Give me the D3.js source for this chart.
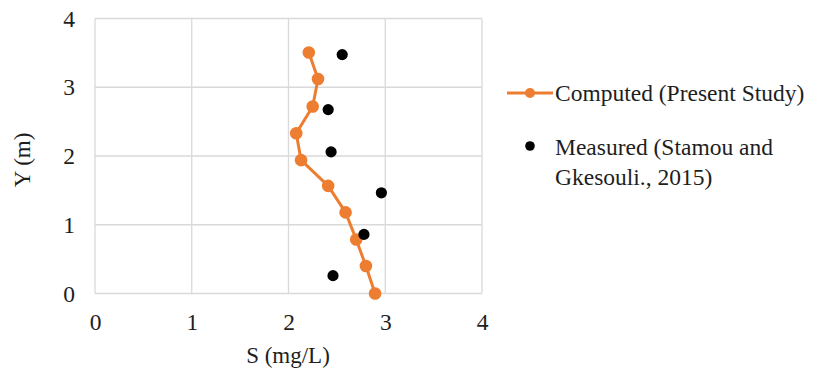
<!DOCTYPE html>
<html lang="en">
<head>
<meta charset="UTF-8">
<title>S profile</title>
<script src="https://d3js.org/d3.v7.min.js"></script>
<style>
    body { margin: 0; background: #fff; }
    svg { font-family: 'Liberation Serif', 'Times New Roman', serif; }
    .tick text { font-size: 23.5px; fill: #1e1e1e; }
    .axis-title { font-size: 23px; fill: #1e1e1e; }
    .legend text { font-size: 23.5px; fill: #1e1e1e; }
</style>
</head>
<body>
<svg id="chart" width="814" height="371"></svg>
<script>
    // computed profile (present study)
    const computedS = [2.21, 2.305, 2.25, 2.08, 2.13, 2.41, 2.59, 2.70, 2.80, 2.895];
    const computedY = [3.505, 3.12, 2.72, 2.33, 1.94, 1.565, 1.18, 0.785, 0.40, 0.0];
    // measured (Stamou and Gkesouli, 2015)
    const measuredS = [2.555, 2.41, 2.44, 2.96, 2.78, 2.46];
    const measuredY = [3.475, 2.675, 2.06, 1.465, 0.86, 0.26];
    const tickValues = [0, 1, 2, 3, 4];

    const svg = d3.select("#chart");
    const x = d3.scaleLinear().domain([0, 4]).range([95, 482]);
    const y = d3.scaleLinear().domain([0, 4]).range([293.5, 18.5]);
    const orange = "#ED7D31";

    // grid
    svg.append("g").selectAll("line.v")
        .data(tickValues).enter().append("line")
        .attr("x1", d => x(d)).attr("x2", d => x(d))
        .attr("y1", y(0)).attr("y2", y(4))
        .attr("stroke", "#d9d9d9").attr("stroke-width", 1.3);
    svg.append("g").selectAll("line.h")
        .data(tickValues).enter().append("line")
        .attr("x1", x(0)).attr("x2", x(4))
        .attr("y1", d => y(d)).attr("y2", d => y(d))
        .attr("stroke", "#d9d9d9").attr("stroke-width", 1.3);

    // axes (labels only)
    const xAxis = svg.append("g")
        .attr("transform", `translate(0,${y(0)})`)
        .call(d3.axisBottom(x).tickValues(tickValues).tickFormat(d3.format("d")).tickSize(0).tickPadding(20));
    const yAxis = svg.append("g")
        .attr("transform", `translate(${x(0)},0)`)
        .call(d3.axisLeft(y).tickValues(tickValues).tickFormat(d3.format("d")).tickSize(0).tickPadding(20));
    [xAxis, yAxis].forEach(a => {
        a.attr("font-family", null).attr("font-size", null);
        a.select(".domain").remove();
    });

    svg.append("text").attr("class", "axis-title")
        .attr("x", 288).attr("y", 363).attr("text-anchor", "middle")
        .text("S (mg/L)");
    svg.append("text").attr("class", "axis-title")
        .attr("transform", "translate(30,160) rotate(-90)")
        .attr("text-anchor", "middle")
        .text("Y (m)");

    // computed line + markers
    const pts = computedS.map((s, i) => [s, computedY[i]]);
    svg.append("path")
        .datum(pts)
        .attr("fill", "none").attr("stroke", orange).attr("stroke-width", 3)
        .attr("stroke-linejoin", "round")
        .attr("d", d3.line().x(d => x(d[0])).y(d => y(d[1])));
    svg.append("g").selectAll("circle")
        .data(pts).enter().append("circle")
        .attr("cx", d => x(d[0])).attr("cy", d => y(d[1]))
        .attr("r", 6.3).attr("fill", orange);

    // measured markers
    svg.append("g").selectAll("circle")
        .data(measuredS.map((s, i) => [s, measuredY[i]])).enter().append("circle")
        .attr("cx", d => x(d[0])).attr("cy", d => y(d[1]))
        .attr("r", 5.6).attr("fill", "#000");

    // legend
    const lg = svg.append("g").attr("class", "legend");
    lg.append("line").attr("x1", 507).attr("x2", 553).attr("y1", 93).attr("y2", 93)
        .attr("stroke", orange).attr("stroke-width", 3);
    lg.append("circle").attr("cx", 530).attr("cy", 93).attr("r", 5).attr("fill", orange);
    lg.append("text").attr("x", 555).attr("y", 101).text("Computed (Present Study)");
    lg.append("circle").attr("cx", 530).attr("cy", 146).attr("r", 4.8).attr("fill", "#000");
    lg.append("text").attr("x", 555).attr("y", 155).text("Measured (Stamou and");
    lg.append("text").attr("x", 555).attr("y", 185).text("Gkesouli., 2015)");
</script>
</body>
</html>
